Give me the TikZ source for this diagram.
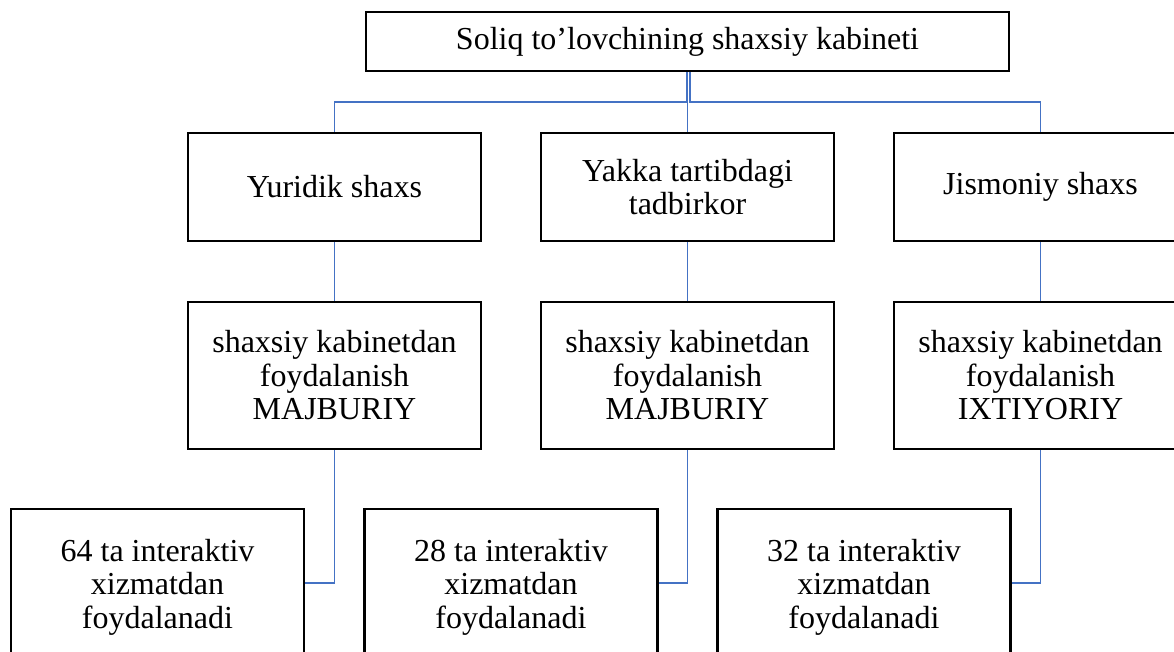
\documentclass[tikz,border=0pt]{standalone}
\usepackage{fontspec}
\setmainfont{Liberation Serif}
\definecolor{conn}{HTML}{4472C4}
\begin{document}
\begin{tikzpicture}[x=1pt,y=-1pt,
  box/.style={draw=black,line width=2.3pt,fill=white,align=center,inner sep=0pt,
    font=\fontsize{32}{33.5}\selectfont},
  link/.style={draw=conn,line width=1.8pt}]
\useasboundingbox (0,0) rectangle (1174,652);
\clip (0,0) rectangle (1174,652);
% top
\node[box,minimum width=643,minimum height=59] (top) at (687.5,41.5) {Soliq to’lovchining shaxsiy kabineti};
% row 2
\node[box,minimum width=293,minimum height=108] (yur) at (334.5,187) {Yuridik shaxs};
\node[box,minimum width=293,minimum height=108] (yak) at (687.5,187) {Yakka tartibdagi\\tadbirkor};
\node[box,minimum width=293,minimum height=108] (jis) at (1040.5,187) {Jismoniy shaxs};
% row 3
\node[box,minimum width=293,minimum height=147] (yur3) at (334.5,375.5) {shaxsiy kabinetdan\\foydalanish\\MAJBURIY};
\node[box,minimum width=293,minimum height=147] (yak3) at (687.5,375.5) {shaxsiy kabinetdan\\foydalanish\\MAJBURIY};
\node[box,minimum width=293,minimum height=147] (jis3) at (1040.5,375.5) {shaxsiy kabinetdan\\foydalanish\\IXTIYORIY};
% row 4
\node[box,minimum width=293,minimum height=156] (yur4) at (157.5,587) {64 ta interaktiv\\xizmatdan\\foydalanadi};
\node[box,minimum width=293,minimum height=156] (yak4) at (511,587) {28 ta interaktiv\\xizmatdan\\foydalanadi};
\node[box,minimum width=293,minimum height=156] (jis4) at (864,587) {32 ta interaktiv\\xizmatdan\\foydalanadi};
% connectors
\coordinate (bus) at (0,102);
\draw[link] (top.south) -- (yak.north);
\draw[link] ([xshift=-1pt]top.south) |- (yur.north |- bus) -- (yur.north);
\draw[link] ([xshift=2.5pt]top.south) |- (jis.north |- bus) -- (jis.north);
\draw[link] (yur.south) -- (yur3.north);
\draw[link] (yak.south) -- (yak3.north);
\draw[link] (jis.south) -- (jis3.north);
\draw[link] (yur3.south) |- ([yshift=4pt]yur4.east);
\draw[link] (yak3.south) |- ([yshift=4pt]yak4.east);
\draw[link] (jis3.south) |- ([yshift=4pt]jis4.east);
\end{tikzpicture}
\end{document}
